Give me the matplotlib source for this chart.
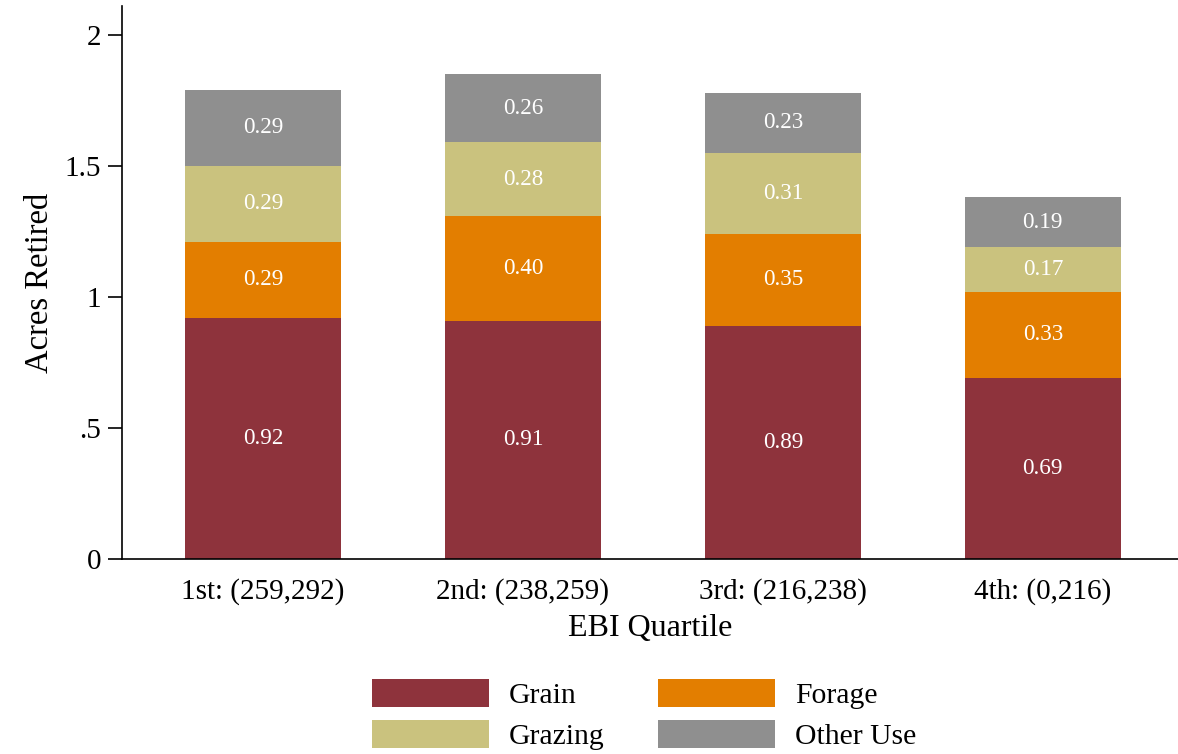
import numpy as np
import matplotlib
matplotlib.use('Agg')
import matplotlib.pyplot as plt

plt.rcParams['font.family'] = ['Liberation Serif', 'DejaVu Serif']

quartiles = ['1st: (259,292)', '2nd: (238,259)', '3rd: (216,238)', '4th: (0,216)']
grain = [0.92, 0.91, 0.89, 0.69]
forage = [0.29, 0.40, 0.35, 0.33]
grazing = [0.29, 0.28, 0.31, 0.17]
other_use = [0.29, 0.26, 0.23, 0.19]

series = [('Grain', grain, '#8e333c'),
          ('Forage', forage, '#e37e00'),
          ('Grazing', grazing, '#cac27e'),
          ('Other Use', other_use, '#8f8f8f')]

fig = plt.figure(figsize=(11.78, 7.54), dpi=100)
ax = fig.add_axes([0.1036, 0.2586, 0.8964, 0.7334])

x = np.arange(1, len(quartiles) + 1)
bottom = np.zeros(len(quartiles))
handles = {}
for name, vals, col in series:
    vals = np.array(vals)
    b = ax.bar(x, vals, width=0.6, bottom=bottom, color=col, label=name)
    handles[name] = b
    for xi, bi, v in zip(x, bottom, vals):
        ax.text(xi, bi + v / 2, f'{v:.2f}', ha='center', va='center',
                color='white', fontsize=16.7)
    bottom = bottom + vals

ax.set_xlim(1 - 0.542, 4 + 0.52)
ax.set_ylim(0, 2.11)
ax.set_yticks([0, 0.5, 1, 1.5, 2])
ax.set_yticklabels(['0', '.5', '1', '1.5', '2'])
ax.set_xticks(x)
ax.set_xticklabels(quartiles)
ax.tick_params(axis='y', labelsize=21, length=10, width=1.2, direction='out', pad=5)
ax.tick_params(axis='x', labelsize=21, length=0, pad=14)
ax.spines['top'].set_visible(False)
ax.spines['right'].set_visible(False)
ax.spines['left'].set_linewidth(1.2)
ax.spines['bottom'].set_linewidth(1.2)
ax.set_ylabel('Acres Retired', fontsize=23.5, labelpad=7)
ax.set_xlabel('EBI Quartile', fontsize=23, labelpad=6)

order = ['Grain', 'Grazing', 'Forage', 'Other Use']
fig.legend([handles[n] for n in order], order, ncol=2, loc='center',
           bbox_to_anchor=(0.5467, 0.052), frameon=False, fontsize=21.3,
           handlelength=3.95, handleheight=1.05, handletextpad=0.68,
           columnspacing=1.8, labelspacing=0.38)

fig.savefig('out.png', dpi=100)
